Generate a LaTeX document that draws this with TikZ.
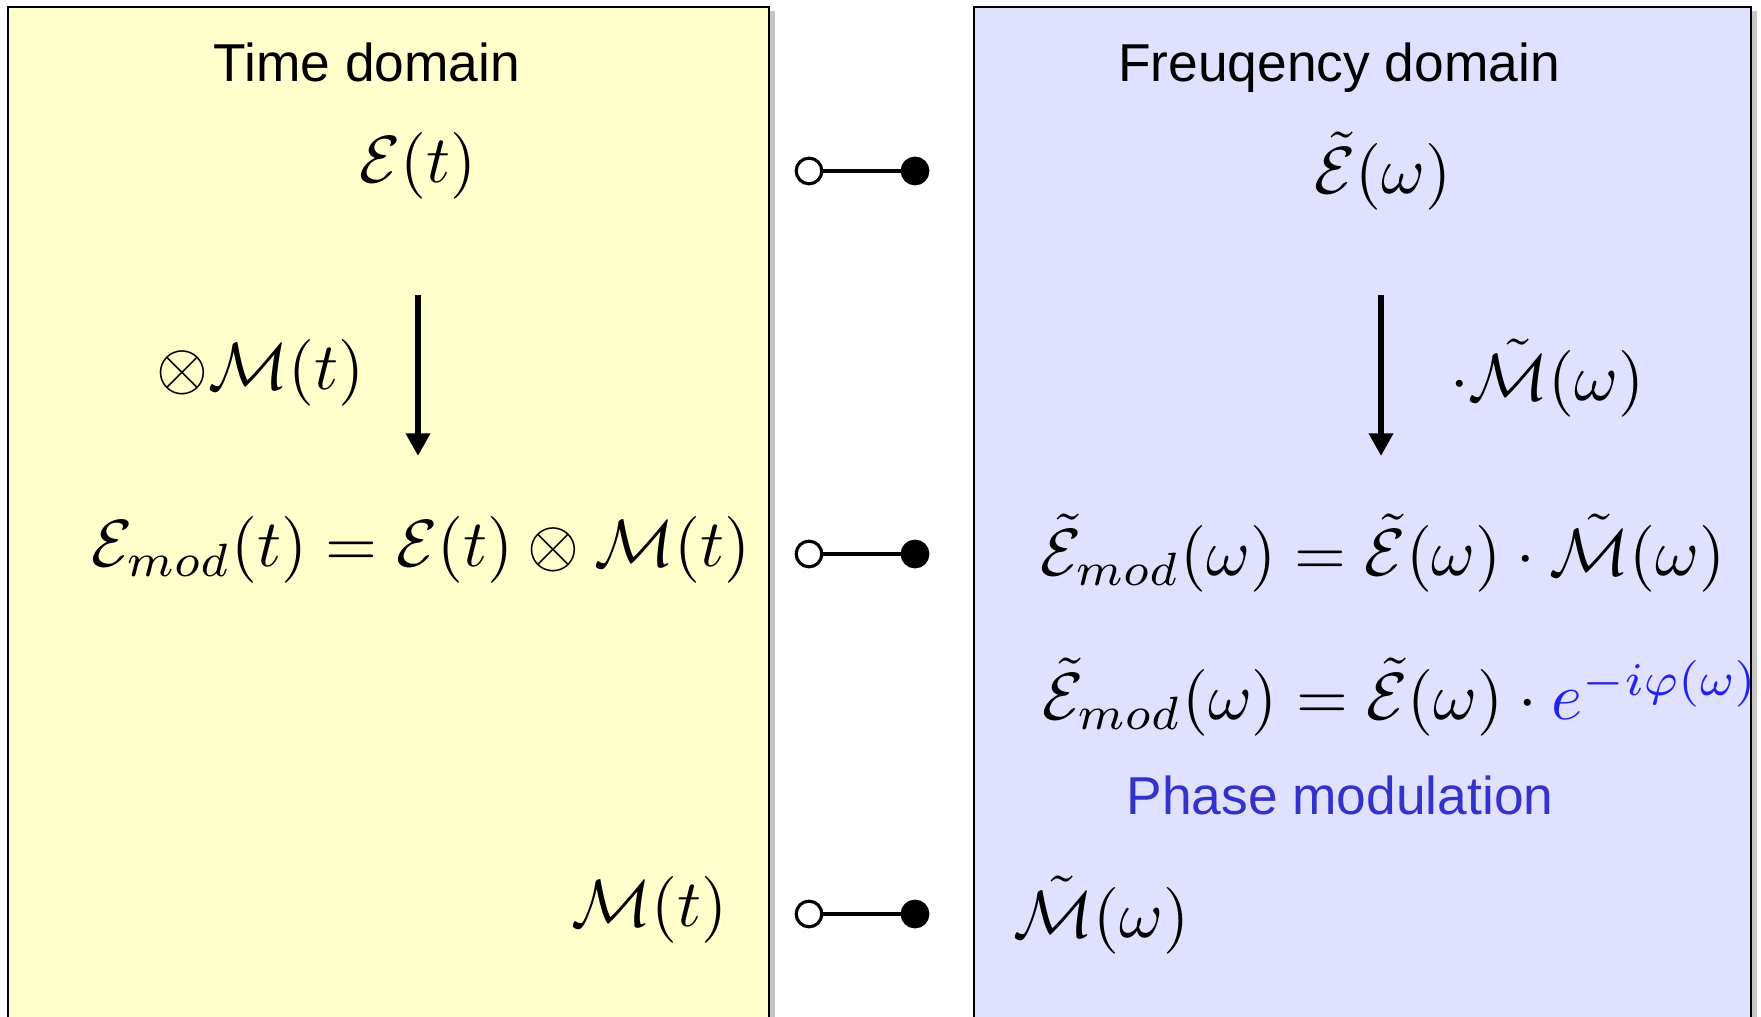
\documentclass[tikz,border=0pt]{standalone}
\usepackage{fontspec}
\newfontfamily\arialfont{Liberation Sans}
\usetikzlibrary{arrows.meta,shadows}
\definecolor{timebg}{HTML}{FFFFCC}
\definecolor{freqbg}{HTML}{E0E0FF}
\definecolor{phaseblue}{HTML}{3333CC}
\definecolor{expblue}{HTML}{2222EE}

\begin{document}
\begin{tikzpicture}[x=0.15pt,y=-0.15pt,>=Triangle,
  domainbox/.style={draw=black,line width=0.42pt,
    drop shadow={shadow xshift=0.85pt,shadow yshift=-0.55pt,opacity=0.45}},
  title/.style={font=\arialfont\fontsize{8}{10}\selectfont,anchor=base},
  eq/.style={inner sep=0pt,font=\fontsize{10}{12}\selectfont},
  port/.style={circle,draw,line width=0.47pt,minimum size=3.85pt,inner sep=0pt},
  openport/.style={port,fill=white},
  fullport/.style={port,fill=black},
  link/.style={line width=0.47pt},
  flow/.style={-{Triangle[length=3.4pt,width=3.5pt]},line width=1.03pt}]
  \useasboundingbox (0,0) rectangle (1761,1017);
  \clip (0,0) rectangle (1761,1017);
  \fill[white] (0,0) rectangle (1761,1017);
  % the two domains
  \filldraw[domainbox,fill=timebg] (8,7) rectangle (769,1060);
  \filldraw[domainbox,fill=freqbg] (974,7) rectangle (1751,1060);
  \node[title] (ttitle) at (367,82) {Time domain};
  \node[title] (ftitle) at (1339,82) {Freuqency domain};
  % time domain
  \node[eq] (et) at (418,166) {$\mathcal{E}(t)$};
  \coordinate (ttop) at (418,295);
  \coordinate (tbot) at (418,456);
  \draw[flow] (ttop)--(tbot);
  \node[eq,anchor=east] (tmul) at (366,373) {$\otimes\mathcal{M}(t)$};
  \node[eq] (emodt) at (421,550) {$\mathcal{E}_{mod}(t)=\mathcal{E}(t)\otimes\mathcal{M}(t)$};
  \node[eq,anchor=east] (mt) at (729,910) {$\mathcal{M}(t)$};
  % frequency domain
  \node[eq] (ew) at (1383,171) {$\tilde{\mathcal{E}}(\omega)$};
  \coordinate (wtop) at (1381,295);
  \coordinate (wbot) at (1381,456);
  \draw[flow] (wtop)--(wbot);
  \node[eq,anchor=west] (wmul) at (1449,378) {$\cdot\tilde{\mathcal{M}}(\omega)$};
  \node[eq] (emodw) at (1383,553)
    {$\tilde{\mathcal{E}}_{mod}(\omega)=\tilde{\mathcal{E}}(\omega)\cdot\tilde{\mathcal{M}}(\omega)$};
  \node[eq,anchor=east] (emodp) at (1760,697)
    {$\tilde{\mathcal{E}}_{mod}(\omega)=\tilde{\mathcal{E}}(\omega)\cdot\textcolor{expblue}{e^{-i\varphi(\omega)}}$};
  \node[title,text=phaseblue] (phase) at (1340,815) {Phase modulation};
  \node[eq,anchor=west] (mw) at (1012,915) {$\tilde{\mathcal{M}}(\omega)$};
  % Fourier pairs
  \node[openport] (o1) at (809,171) {};
  \node[fullport] (f1) at (915,171) {};
  \node[openport] (o2) at (809,554) {};
  \node[fullport] (f2) at (915,554) {};
  \node[openport] (o3) at (809,914) {};
  \node[fullport] (f3) at (915,914) {};
  \draw[link] (o1)--(f1);
  \draw[link] (o2)--(f2);
  \draw[link] (o3)--(f3);
\end{tikzpicture}
\end{document}
